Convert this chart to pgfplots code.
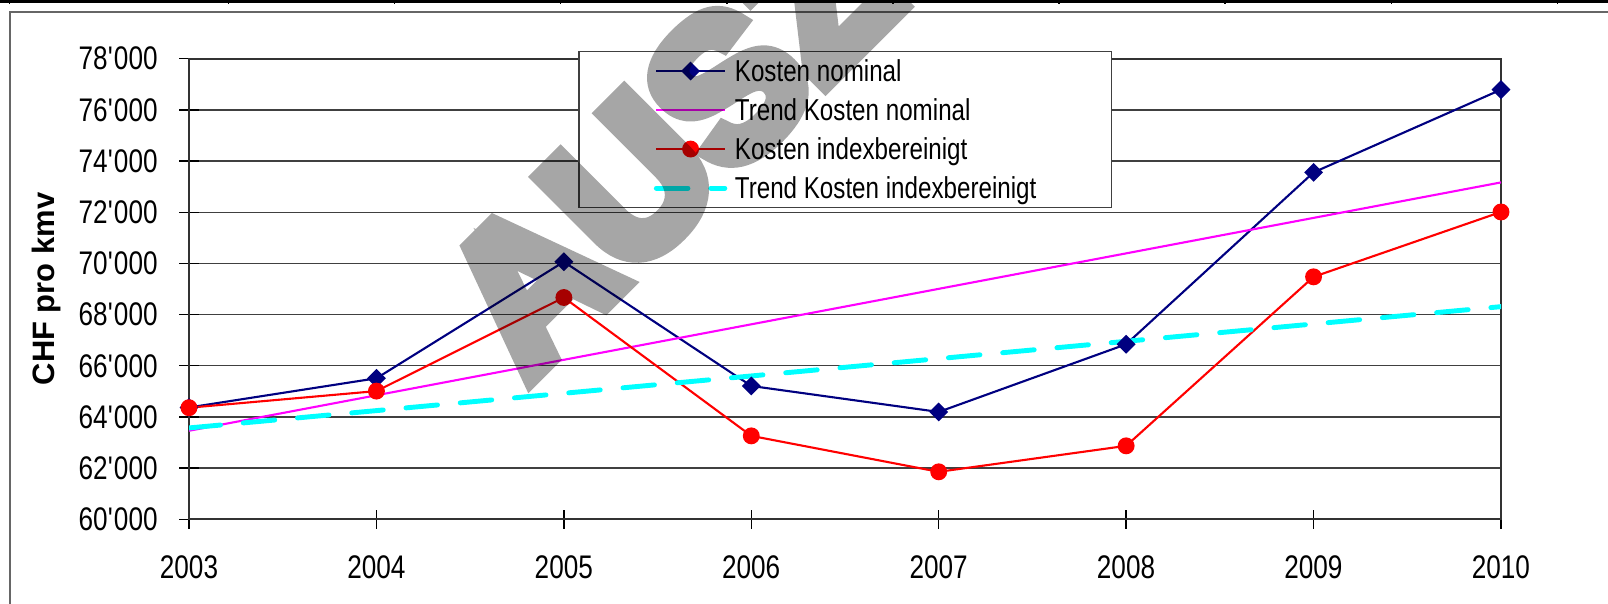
\documentclass[border=0pt]{standalone}
\usepackage{fontspec}
\setmainfont{Liberation Sans}[FakeStretch=0.8]
\newfontfamily\plainfont{Liberation Sans}
\newfontfamily\wmfont{Liberation Sans Bold}[FakeBold=9]
\usepackage{pgfplots}
\usepackage{pgfplotstable}
\pgfplotsset{compat=1.18}

\definecolor{knavy}{RGB}{0,0,128}
\definecolor{kmag}{RGB}{255,0,255}
\definecolor{kred}{RGB}{255,0,0}
\definecolor{kcyan}{RGB}{0,255,255}

% Kosten pro kmv, nominal und indexbereinigt
\pgfplotstableread{
year nominal index
2003 64370 64360
2004 65510 65010
2005 70063 68667
2006 65210 63260
2007 64195 61855
2008 66840 62870
2009 73557 69475
2010 76790 72010
}\kosten

% lineare Trends (Endpunkte)
\pgfplotstableread{
year trendnom trendidx
2003 63460 63570
2010 73165 68310
}\trend

\begin{document}
\begin{tikzpicture}
\useasboundingbox (0,0) rectangle (16.08,6.04);
\begin{scope}
\clip (0,0) rectangle (16.08,6.04);
% Tabellenrand oben
\fill[black] (0,6.013) rectangle (16.08,6.04);
\foreach \x in {0.096,2.285,3.946,5.607,7.268,8.929,10.59,12.251,13.912,15.573}
  \draw[black,line width=0.4pt] (\x,6.04) -- (\x,5.995);
% Rahmen
\draw[black!60,line width=0.5pt] (0.103,-0.1) -- (0.103,5.917) -- (16.2,5.917);

\begin{axis}[
  at={(1.89cm,0.847cm)}, anchor=south west,
  width=13.12cm, height=4.606cm, scale only axis,
  xmin=2003, xmax=2010, ymin=60000, ymax=78000,
  xtick={2003,...,2010},
  xticklabels={2003,2004,2005,2006,2007,2008,2009,2010},
  ytick={60000,62000,...,78000},
  scaled y ticks=false,
  yticklabels={60\textquotesingle 000,62\textquotesingle 000,64\textquotesingle 000,66\textquotesingle 000,68\textquotesingle 000,70\textquotesingle 000,72\textquotesingle 000,74\textquotesingle 000,76\textquotesingle 000,78\textquotesingle 000},
  tick pos=left,
  tick align=center, major tick length=1.94mm,
  tick style={black, line width=0.4pt},
  axis line style={black!80, line width=0.5pt},
  ymajorgrids, major grid style={black!75, line width=0.4pt},
  ticklabel style={font=\fontsize{9.3}{11}\selectfont, inner sep=0pt},
  yticklabel style={anchor=east, xshift=-2.1mm},
  xticklabel style={anchor=north, yshift=-2.6mm},
  ylabel={CHF pro kmv},
  ylabel style={font=\plainfont\bfseries\fontsize{8.8}{10}\selectfont, at={(axis description cs:-0.1085,0.5)}, anchor=center},
  legend style={at={(0.2965,1.0174)}, anchor=north west, draw=black!75, fill=white,
    line width=0.5pt, inner xsep=7.5mm, inner ysep=0pt, row sep=0pt,
    font=\fontsize{8.6}{10}\selectfont,
    nodes={inner xsep=0pt, inner ysep=0.45mm, text height=2.55mm, text depth=0.45mm},
    /tikz/every odd column/.style={column sep=0.76mm}},
  legend cell align=left,
  legend image code/.code={\draw[mark repeat=2,mark phase=2] plot coordinates {(0cm,0cm)(0.3425cm,0cm)(0.685cm,0cm)};},
]
\addplot[knavy, line width=0.6pt, mark=square*, mark size=1.6pt, mark options={rotate=45, fill=knavy, solid}]
  table[x=year,y=nominal] {\kosten};
\addlegendentry{Kosten nominal}
\addplot[kmag, line width=0.6pt, no marks] table[x=year,y=trendnom] {\trend};
\addlegendentry{Trend Kosten nominal}
\addplot[kred, line width=0.6pt, mark=*, mark size=2.1pt, mark options={fill=kred, solid}]
  table[x=year,y=index] {\kosten};
\addlegendentry{Kosten indexbereinigt}
\addplot[kcyan, line width=1.4pt, line cap=round, dash pattern=on 9pt off 6.5pt, dash phase=0pt, no marks]
  table[x=year,y=trendidx] {\trend};
\addlegendentry{Trend Kosten indexbereinigt}
\end{axis}

% Wasserzeichen
\begin{scope}[transparency group, opacity=0.35]
\node[rotate=45, anchor=base west, inner sep=0pt, text=black,
  font=\wmfont\fontsize{56}{56}\selectfont] at (5.27,2.22) {AUSZUG};
\end{scope}
\end{scope}
\end{tikzpicture}
\end{document}
